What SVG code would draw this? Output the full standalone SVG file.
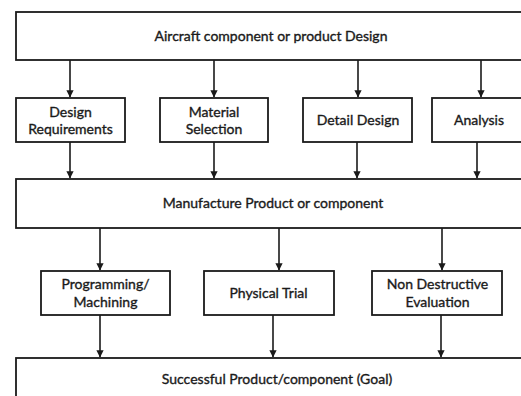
<svg xmlns="http://www.w3.org/2000/svg" width="521" height="396" viewBox="0 0 521 396">
  <style>
    .box { fill: #ffffff; stroke: #1a1a1a; stroke-width: 1.8; }
    .lbl { font-family: Lato, "Liberation Sans", sans-serif; font-size: 14px; fill: #1a1a1a; stroke: #1a1a1a; stroke-width: 0.35; text-anchor: middle; }
    .conn { stroke: #1a1a1a; stroke-width: 1.6; fill: none; marker-end: url(#arrow); }
  </style>
  <defs>
    <marker id="arrow" viewBox="0 0 8 8" refX="7.5" refY="4" markerWidth="4.5" markerHeight="4.5" orient="auto" markerUnits="strokeWidth">
      <path d="M0,0 L8,4 L0,8 Z" fill="#1a1a1a"/>
    </marker>
  </defs>
  <rect width="521" height="396" fill="#ffffff"/>

  <g id="connectors">
    <line class="conn" x1="70" y1="60" x2="70" y2="97"/>
    <line class="conn" x1="214" y1="60" x2="214" y2="97"/>
    <line class="conn" x1="358" y1="60" x2="358" y2="97"/>
    <line class="conn" x1="481" y1="60" x2="481" y2="97"/>
    <line class="conn" x1="70" y1="142" x2="70" y2="178"/>
    <line class="conn" x1="214" y1="142" x2="214" y2="178"/>
    <line class="conn" x1="357" y1="142" x2="357" y2="178"/>
    <line class="conn" x1="477" y1="142" x2="477" y2="178"/>
    <line class="conn" x1="100" y1="228" x2="100" y2="270"/>
    <line class="conn" x1="279" y1="228" x2="279" y2="270"/>
    <line class="conn" x1="442" y1="228" x2="442" y2="270"/>
    <line class="conn" x1="100" y1="315" x2="100" y2="357"/>
    <line class="conn" x1="273" y1="315" x2="273" y2="357"/>
    <line class="conn" x1="441" y1="315" x2="441" y2="357"/>
  </g>

  <g id="design">
    <rect class="box" x="16" y="12" width="520" height="48"/>
    <text class="lbl" x="271" y="41">Aircraft component or product Design</text>
  </g>
  <g id="requirements">
    <rect class="box" x="16" y="98" width="109" height="44"/>
    <text class="lbl" x="70.5" y="117">Design</text>
    <text class="lbl" x="70.5" y="134">Requirements</text>
  </g>
  <g id="material">
    <rect class="box" x="160" y="98" width="108" height="44"/>
    <text class="lbl" x="214" y="117">Material</text>
    <text class="lbl" x="214" y="134">Selection</text>
  </g>
  <g id="detail">
    <rect class="box" x="303" y="98" width="109" height="44"/>
    <text class="lbl" x="358" y="125">Detail Design</text>
  </g>
  <g id="analysis">
    <rect class="box" x="432" y="98" width="104" height="44"/>
    <text class="lbl" x="479" y="125">Analysis</text>
  </g>
  <g id="manufacture">
    <rect class="box" x="16" y="179" width="520" height="49"/>
    <text class="lbl" x="273" y="208">Manufacture Product or component</text>
  </g>
  <g id="programming">
    <rect class="box" x="41" y="271" width="129" height="44"/>
    <text class="lbl" x="105.5" y="289">Programming/</text>
    <text class="lbl" x="105.5" y="307">Machining</text>
  </g>
  <g id="trial">
    <rect class="box" x="204" y="271" width="130" height="44"/>
    <text class="lbl" x="268.5" y="298">Physical Trial</text>
  </g>
  <g id="nde">
    <rect class="box" x="372" y="271" width="130" height="44"/>
    <text class="lbl" x="437.5" y="289">Non Destructive</text>
    <text class="lbl" x="437.5" y="307">Evaluation</text>
  </g>
  <g id="goal">
    <rect class="box" x="16" y="358" width="520" height="60"/>
    <text class="lbl" x="277" y="384">Successful Product/component (Goal)</text>
  </g>
</svg>
